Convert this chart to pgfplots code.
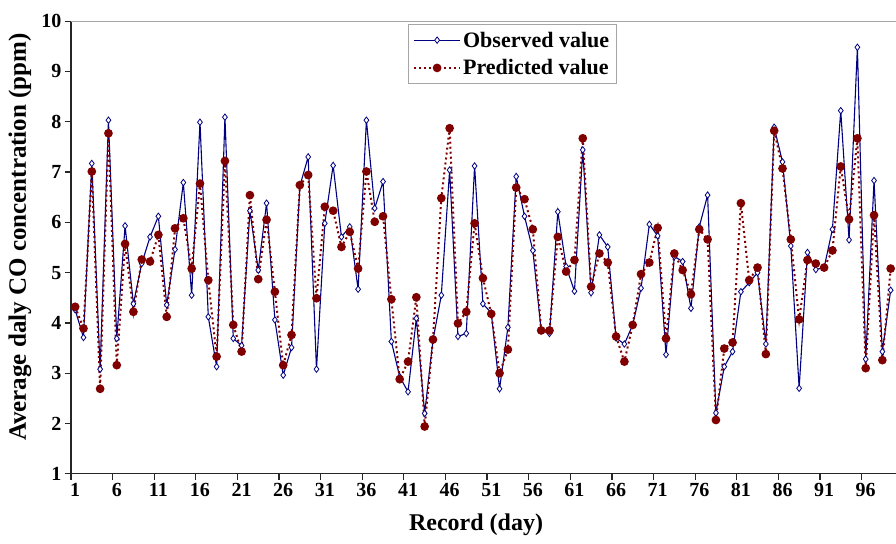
\documentclass[border=0pt]{standalone}
\usepackage{fontspec}
\setmainfont{Liberation Serif}
\usepackage{pgfplots}
\usepackage{pgfplotstable}
\pgfplotsset{compat=1.18}

\definecolor{obsblue}{RGB}{0,0,128}
\definecolor{predred}{RGB}{128,0,0}

% day, observed, predicted (ppm)
\pgfplotstableread{
day obs pred
1 4.26 4.32
2 3.71 3.89
3 7.17 7.01
4 3.08 2.69
5 8.03 7.77
6 3.69 3.16
7 5.93 5.57
8 4.38 4.22
9 5.18 5.26
10 5.71 5.22
11 6.12 5.75
12 4.36 4.12
13 5.46 5.88
14 6.79 6.08
15 4.55 5.08
16 7.99 6.77
17 4.12 4.85
18 3.13 3.33
19 8.09 7.22
20 3.69 3.96
21 3.55 3.43
22 6.23 6.54
23 5.05 4.87
24 6.38 6.05
25 4.06 4.62
26 2.96 3.16
27 3.51 3.76
28 6.72 6.74
29 7.30 6.94
30 3.08 4.49
31 5.98 6.31
32 7.13 6.23
33 5.71 5.51
34 5.91 5.81
35 4.67 5.08
36 8.03 7.01
37 6.28 6.01
38 6.81 6.12
39 3.63 4.47
40 2.93 2.88
41 2.63 3.23
42 4.09 4.51
43 2.20 1.94
44 3.66 3.67
45 4.55 6.48
46 7.04 7.87
47 3.73 3.99
48 3.79 4.22
49 7.12 5.98
50 4.38 4.89
51 4.20 4.18
52 2.69 3.00
53 3.91 3.47
54 6.91 6.69
55 6.12 6.46
56 5.44 5.86
57 3.85 3.85
58 3.79 3.85
59 6.21 5.71
60 5.12 5.02
61 4.63 5.25
62 7.44 7.67
63 4.60 4.72
64 5.75 5.38
65 5.51 5.20
66 3.70 3.73
67 3.58 3.23
68 3.96 3.96
69 4.69 4.97
70 5.96 5.20
71 5.73 5.89
72 3.37 3.69
73 5.32 5.38
74 5.22 5.05
75 4.29 4.57
76 5.91 5.86
77 6.54 5.66
78 2.21 2.07
79 3.13 3.49
80 3.43 3.61
81 4.62 6.38
82 4.80 4.85
83 5.00 5.10
84 3.58 3.38
85 7.89 7.82
86 7.20 7.07
87 5.53 5.66
88 2.70 4.07
89 5.40 5.25
90 5.06 5.18
91 5.10 5.10
92 5.86 5.44
93 8.22 7.11
94 5.65 6.06
95 9.48 7.67
96 3.28 3.10
97 6.83 6.14
98 3.43 3.26
99 4.65 5.08
}\codata

\begin{document}
\begin{tikzpicture}
\useasboundingbox (0,0) rectangle (896pt,543pt);
\begin{axis}[
    at={(71pt,69.2pt)}, anchor=south west,
    scale only axis, width=825pt, height=452.7pt,
    xmin=0.5, xmax=99.64, ymin=1, ymax=10,
    clip=false,
    axis x line*=bottom, axis y line*=left,
    axis line style={line width=1.2pt, black!85, -},
    tick align=outside,
    tick style={line width=1.2pt, black!85},
    major tick length=6pt,
    % ticks sit between categories, labels at the category centre
    xtick={0.5,5.5,...,95.5},
    xticklabel={\pgfmathtruncatemacro\lab{\tick+0.5}\lab},
    xticklabel style={xshift=4.17pt},
    ytick={1,...,10},
    /pgf/number format/assume math mode=true,
    ticklabel style={font=\fontsize{20}{22}\selectfont\bfseries},
    xlabel={Record (day)},
    xlabel style={at={(axis description cs:0.491,-0.113)}, anchor=center,
        font=\fontsize{24}{27}\selectfont\bfseries},
    ylabel={Average daly CO concentration (ppm)},
    ylabel style={at={(axis description cs:-0.0618,0.523)}, anchor=center,
        font=\fontsize{25}{28}\selectfont\bfseries},
    legend style={at={(axis description cs:0.408,0.993)}, anchor=north west,
        draw=gray!70, line width=1pt, font=\fontsize{22}{24}\selectfont\bfseries,
        inner xsep=5pt, inner ysep=5pt, row sep=7pt, cells={anchor=west}},
    legend image code/.code={\draw[mark repeat=2, mark phase=2, #1]
        plot coordinates {(0pt,0pt) (23pt,0pt) (46pt,0pt)};},
]
\addplot[color=obsblue, line width=1.1pt, mark=diamond*, mark size=3.2pt,
    mark options={fill=white, draw=obsblue, line width=0.8pt}]
    table[x=day, y=obs] {\codata};
\addplot[color=predred, line width=2pt, dash pattern=on 2pt off 3pt,
    mark=*, mark size=3.3pt, mark options={solid, fill=predred}]
    table[x=day, y=pred] {\codata};
\legend{Observed value, Predicted value}
\draw[gray!70, line width=1.2pt] (rel axis cs:0,1) -- (rel axis cs:1,1);
\end{axis}
\end{tikzpicture}
\end{document}
